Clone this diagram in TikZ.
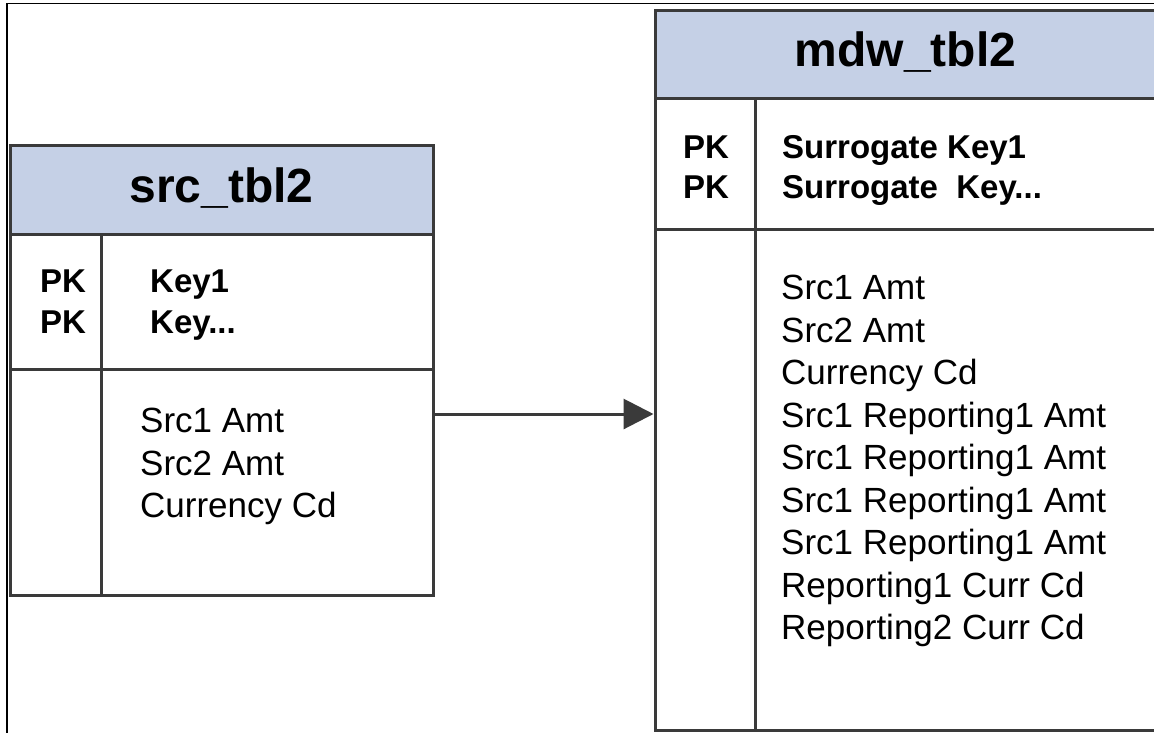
\documentclass[tikz,border=0pt]{standalone}
\usepackage{fontspec}
\setmainfont{Liberation Sans}
\usetikzlibrary{arrows.meta,positioning}
\definecolor{edge}{HTML}{3A3A3A}
\definecolor{headfill}{HTML}{C5D0E6}

\begin{document}
\begin{tikzpicture}[x=1pt,y=-1pt,
  tbl/.style={draw=edge, line width=3pt, inner sep=0pt},
  hdr/.style={tbl, fill=headfill, font=\fontsize{48pt}{48pt}\selectfont\bfseries, text height=35pt, text depth=10pt},
  key/.style={anchor=west, inner sep=0pt, font=\fontsize{33pt}{33pt}\selectfont\bfseries, text height=24pt, text depth=0pt},
  fld/.style={anchor=west, inner sep=0pt, font=\fontsize{35pt}{35pt}\selectfont, text height=25.5pt, text depth=0pt},
  rule/.style={draw=edge, line width=3pt},
  flow/.style={draw=edge, line width=3pt, -{Triangle[length=30pt,width=30pt]}}]
\useasboundingbox (0,0) rectangle (1154,732);
\draw[line width=1.5pt] (7,740) -- (7,3.5) -- (1160,3.5);
% source table
\node[tbl, minimum width=423pt, minimum height=450pt] (src) at (221.5,370) {};
\node[hdr, minimum width=423pt, minimum height=89pt] (srchead) at (221.5,189.5) {src\_tbl2};
\draw[rule] (10,369) -- (433,369);
\draw[rule] (101,234) -- (101,595);
\node[key] (srcpk1) at (40,280) {PK};
\node[key] (srcpk2) at (40,321) {PK};
\node[key] (srckey1) at (150,280) {Key1};
\node[key] (srckey2) at (150,321) {Key...};
\node[fld] (srcf1) at (140,420) {Src1 Amt};
\node[fld] (srcf2) at (140,462.5) {Src2 Amt};
\node[fld] (srcf3) at (140,505) {Currency Cd};
% target table
\node[tbl, minimum width=501pt, minimum height=720pt] (mdw) at (905.5,370) {};
\node[hdr, minimum width=501pt, minimum height=88pt, text width=495pt, align=center] (mdwhead) at (905.5,54) {mdw\_tbl2};
\draw[rule] (655,229) -- (1156,229);
\draw[rule] (755,98) -- (755,730);
\node[key] (mdwpk1) at (683,146) {PK};
\node[key] (mdwpk2) at (683,186) {PK};
\node[key] (mdwkey1) at (782,146) {Surrogate Key1};
\node[key] (mdwkey2) at (782,186) {Surrogate~ Key...};
\node[fld] (mdwf1) at (781,287) {Src1 Amt};
\node[fld] (mdwf2) at (781,329.5) {Src2 Amt};
\node[fld] (mdwf3) at (781,372) {Currency Cd};
\node[fld] (mdwf4) at (781,414.5) {Src1 Reporting1 Amt};
\node[fld] (mdwf5) at (781,457) {Src1 Reporting1 Amt};
\node[fld] (mdwf6) at (781,499.5) {Src1 Reporting1 Amt};
\node[fld] (mdwf7) at (781,542) {Src1 Reporting1 Amt};
\node[fld] (mdwf8) at (781,584.5) {Reporting1 Curr Cd};
\node[fld] (mdwf9) at (781,627) {Reporting2 Curr Cd};
% load arrow
\coordinate (tail) at ([yshift=-44pt]src.east);
\draw[flow] (tail) -- (tail -| mdw.west);
\end{tikzpicture}
\end{document}
